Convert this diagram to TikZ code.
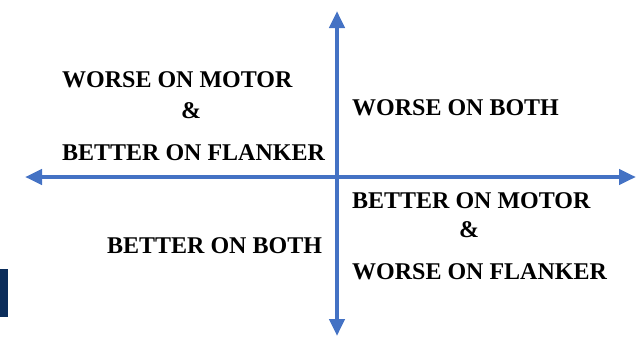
\documentclass[tikz,border=0pt]{standalone}
\usepackage{fontspec}
\setmainfont{Liberation Serif}
\usepackage{xcolor}
\usepackage{tikz}
\usetikzlibrary{arrows.meta}
\definecolor{axblue}{HTML}{4472C4}
\definecolor{navy}{HTML}{0B2D5B}

\begin{document}
\begin{tikzpicture}[x=1pt,y=-1pt,
    axis/.style={draw=axblue,line width=4.5pt,{Triangle[width=15pt,length=17pt]}-{Triangle[width=15pt,length=17pt]}},
    quad/.style={inner sep=0pt,font=\fontsize{24}{28}\selectfont\bfseries}]
  \useasboundingbox (0,0) rectangle (639,340);
  \fill[navy] (0,269) rectangle (8,317);
  % axes
  \coordinate (west) at (25,177);
  \coordinate (east) at (636,177);
  \coordinate (north) at (337,11);
  \coordinate (south) at (337,336);
  \draw[axis] (west) -- (east);
  \draw[axis] (north) -- (south);
  % upper left
  \node[quad,anchor=base west] (wm) at (62,87) {WORSE ON MOTOR};
  \node[quad,anchor=base] (ampl) at (191,118) {\&};
  \node[quad,anchor=base west] (bf) at (62,160) {BETTER ON FLANKER};
  % upper right
  \node[quad,anchor=base west] (wb) at (352,115) {WORSE ON BOTH};
  % lower right
  \node[quad,anchor=base west] (bm) at (352,208) {BETTER ON MOTOR};
  \node[quad,anchor=base] (ampr) at (469,237) {\&};
  \node[quad,anchor=base west] (wf) at (352,279) {WORSE ON FLANKER};
  % lower left
  \node[quad,anchor=base west] (bb) at (107,253) {BETTER ON BOTH};
\end{tikzpicture}
\end{document}
